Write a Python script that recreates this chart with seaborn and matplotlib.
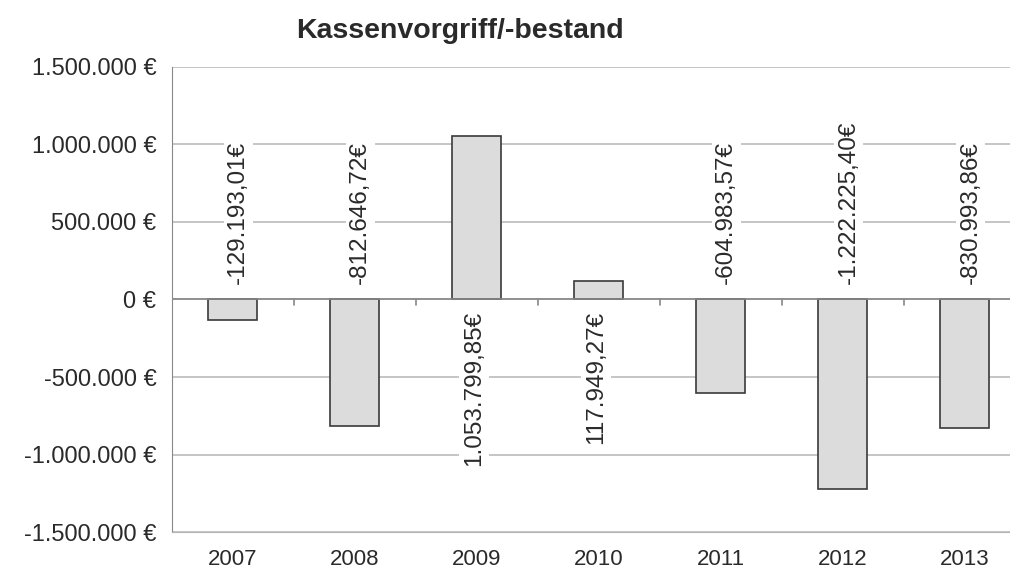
import numpy as np
import pandas as pd
import matplotlib
matplotlib.use("Agg")
import matplotlib.pyplot as plt
import seaborn as sns

# data
years = ["2007", "2008", "2009", "2010", "2011", "2012", "2013"]
values = [-129193.01, -812646.72, 1053799.85, 117949.27, -604983.57, -1222225.40, -830993.86]
y_ticks = [-1500000, -1000000, -500000, 0, 500000, 1000000, 1500000]


def fmt_de(v, decimals=0):
    s = f"{v:,.{decimals}f}"
    return s.replace(",", "X").replace(".", ",").replace("X", ".")


df = pd.DataFrame({"Jahr": years, "Betrag": values})

sns.set_style("white")
plt.rcParams["font.family"] = ["Liberation Sans", "DejaVu Sans"]

fig = plt.figure(figsize=(10.1, 5.71), dpi=100)
ax = fig.add_axes([0.170, 0.068, 0.830, 0.815])

sns.barplot(data=df, x="Jahr", y="Betrag", color="#dcdcdc", width=0.4,
            edgecolor="#3a3a3a", linewidth=1.2, saturation=1, ax=ax, zorder=3)

ax.set_ylim(-1500000, 1500000)
ax.set_xlim(-0.5, 6.37)
ax.set_yticks(y_ticks)
ax.set_yticklabels([fmt_de(t) + " €" for t in y_ticks], fontsize=17, color="#2a2a2a")
ax.set_xticklabels(years, fontsize=16, color="#2a2a2a")
ax.tick_params(axis="x", length=0, pad=12)
ax.tick_params(axis="y", length=6, color="#888888", pad=5)
ax.set_xlabel("")
ax.set_ylabel("")

ax.grid(axis="y", color="#b5b5b5", linewidth=1.1, zorder=0)
for s in ["top", "right"]:
    ax.spines[s].set_visible(False)
ax.spines["left"].set_color("#888888")
ax.spines["bottom"].set_color("#b5b5b5")

# zero line with category boundary ticks
ax.axhline(0, color="#888888", linewidth=1.2, zorder=4)
for b in np.arange(0.5, len(years) - 1, 1.0):
    ax.plot([b, b], [0, -35000], color="#888888", linewidth=1.2, zorder=4)

# value labels on the opposite side of the zero line
for i, v in enumerate(values):
    txt = fmt_de(v, 2) + "€"
    if v < 0:
        ax.annotate(txt, (i, 0), xytext=(4, 11), textcoords="offset points",
                    rotation=90, ha="center", va="bottom", fontsize=17.5, color="#2a2a2a",
                    bbox=dict(boxstyle="square,pad=0.15", fc="white", ec="none"), zorder=5)
    else:
        ax.annotate(txt, (i, 0), xytext=(-2, -8), textcoords="offset points",
                    rotation=90, ha="center", va="top", fontsize=17.5, color="#2a2a2a",
                    bbox=dict(boxstyle="square,pad=0.15", fc="white", ec="none"), zorder=5)

fig.text(0.455, 0.945, "Kassenvorgriff/-bestand", ha="center", va="center",
         fontsize=20.5, fontweight="bold", color="#2a2a2a")

fig.savefig("out.png", dpi=100)
